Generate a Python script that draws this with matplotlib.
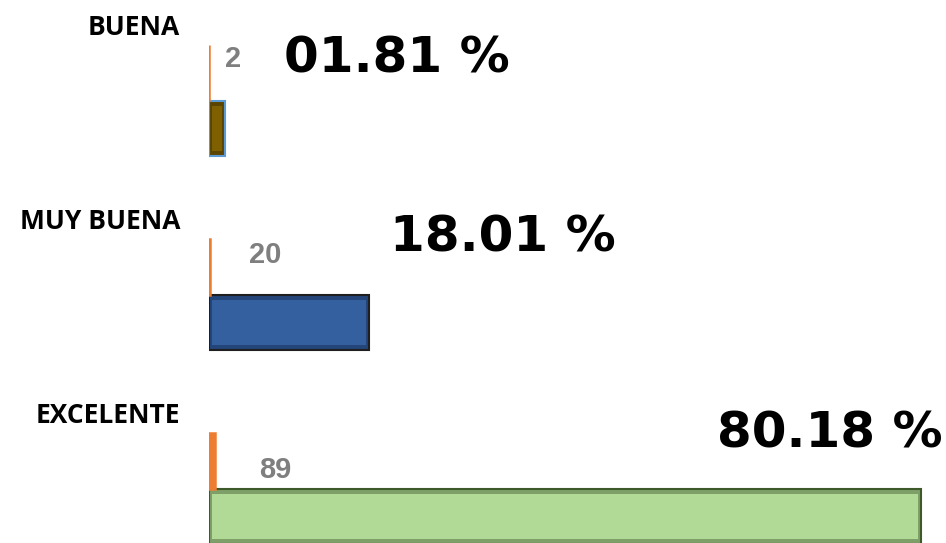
import numpy as np
import matplotlib
matplotlib.use("Agg")
import matplotlib.pyplot as plt
from matplotlib.transforms import blended_transform_factory

# data
categories = ["EXCELENTE", "MUY BUENA", "BUENA"]
counts     = [89, 20, 2]
shares     = [0.8018, 0.1801, 0.0181]
pct_labels = ["80.18 %", "18.01 %", "01.81 %"]

# label placement (data units), as moved by hand in the original
count_lbl_x  = [8.25, 7.0, 3.0]
count_lbl_dy = [0.24, 0.35, 0.36]
pct_lbl_x    = [77.6, 36.75, 23.5]
pct_lbl_dy   = [0.43, 0.44, 0.36]

bar_face  = ["#B0DA96", "#3560A0", "#7F6000"]
bar_dark  = ["#7E9F67", "#24457A", "#5A4400"]
bar_edge  = ["#3F5A2A", "#1F1F1F", "#5B9BD5"]
orange    = "#ED7D31"

W, H = 946, 543
fig = plt.figure(figsize=(W / 100, H / 100), dpi=100)
ax = fig.add_axes([209 / W, 0, (W - 209) / W, 1])
ax.set_xlim(0, (W - 209) / 8.0)
ax.set_ylim(-0.137, 2.662)
ax.axis("off")

y = np.arange(len(categories))
h = 0.285

# main bars with a simple bevel: dark frame + lighter inner face
ax.barh(y, counts, height=h, color=bar_dark, edgecolor=bar_edge,
        linewidth=1.5, align="center")
inset_x = 0.35
inset_y = 0.025
for i in range(len(y)):
    ax.barh(y[i], counts[i] - 2 * inset_x, left=inset_x, height=h - 2 * inset_y,
            color=bar_face[i], linewidth=0)

# thin orange series (share)
ax.barh(y + h, shares, height=h, color=orange, linewidth=1.8,
        edgecolor=orange)

# value labels
for i in range(len(y)):
    ax.text(count_lbl_x[i], y[i] + count_lbl_dy[i], str(counts[i]),
            ha="center", va="center", fontsize=21, fontweight="bold",
            color="#7F7F7F", family="Liberation Sans")
    ax.text(pct_lbl_x[i], y[i] + pct_lbl_dy[i], pct_labels[i],
            ha="center", va="center", fontsize=36, fontweight="bold",
            color="black", family="DejaVu Sans")

# category names
tr = blended_transform_factory(fig.transFigure, ax.transData)
for i in range(len(y)):
    ax.text(180 / W, y[i] + 0.52, categories[i], transform=tr,
            ha="right", va="center", fontsize=19, fontweight="bold",
            family="Open Sans", color="black")

fig.savefig("out.png", dpi=100)
